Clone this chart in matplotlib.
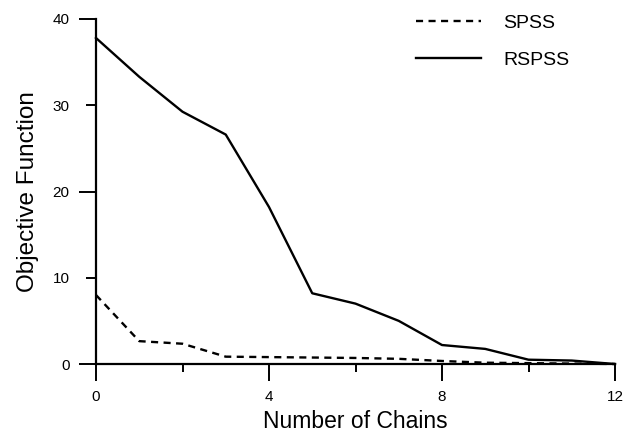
import matplotlib
matplotlib.use("Agg")
import matplotlib.pyplot as plt

# Objective function value versus the number of chains
chains = list(range(13))
spss = [8.0, 2.65, 2.35, 0.85, 0.8, 0.75, 0.7, 0.6, 0.35, 0.15, 0.1, 0.05, 0.0]
rspss = [37.8, 33.3, 29.25, 26.6, 18.2, 8.2, 7.0, 5.0, 2.2, 1.75, 0.5, 0.4, 0.0]

x_major = [0, 4, 8, 12]
x_minor = [2, 6, 10]
y_ticks = [0, 10, 20, 30, 40]

plt.rcParams["font.family"] = ["Liberation Sans", "DejaVu Sans"]

fig = plt.figure(figsize=(6.23, 4.33), dpi=100)
ax = fig.add_axes([96 / 623, 1 - 364 / 433, (615 - 96) / 623, (364 - 19) / 433])

ax.plot(chains, spss, color="black", lw=1.7, linestyle=(0, (3.0, 2.3)),
        label="SPSS", clip_on=False, zorder=3)
ax.plot(chains, rspss, color="black", lw=1.7, linestyle="-",
        label="RSPSS", clip_on=False, zorder=3)

ax.set_xlim(0, 12)
ax.set_ylim(0, 40)

for side in ("top", "right"):
    ax.spines[side].set_visible(False)
for side in ("left", "bottom"):
    ax.spines[side].set_linewidth(1.6)

ax.set_xticks(x_major)
ax.set_xticks(x_minor, minor=True)
ax.set_yticks(y_ticks)
ax.tick_params(axis="x", which="major", direction="out", length=12, width=1.4,
               pad=7, labelsize=11)
ax.tick_params(axis="x", which="minor", direction="out", length=6, width=1.4)
ax.tick_params(axis="y", which="major", direction="out", length=12, width=1.4,
               pad=7, labelsize=11)

# alternate long and short tick marks on the value axis
for val, tick in zip(y_ticks, ax.yaxis.get_major_ticks()):
    if val in (10, 30):
        tick.tick1line.set_markersize(7)

ax.set_xlabel("Number of Chains", fontsize=16.5, labelpad=4)
ax.set_ylabel("Objective Function", fontsize=17.5, labelpad=10)

ax.legend(loc="upper left", bbox_to_anchor=(416 / 623, 1 - 14 / 433),
          bbox_transform=fig.transFigure, frameon=False, fontsize=14,
          handlelength=3.35, handletextpad=1.13, labelspacing=1.0,
          borderpad=0, borderaxespad=0)

fig.savefig("out.png", dpi=100)
